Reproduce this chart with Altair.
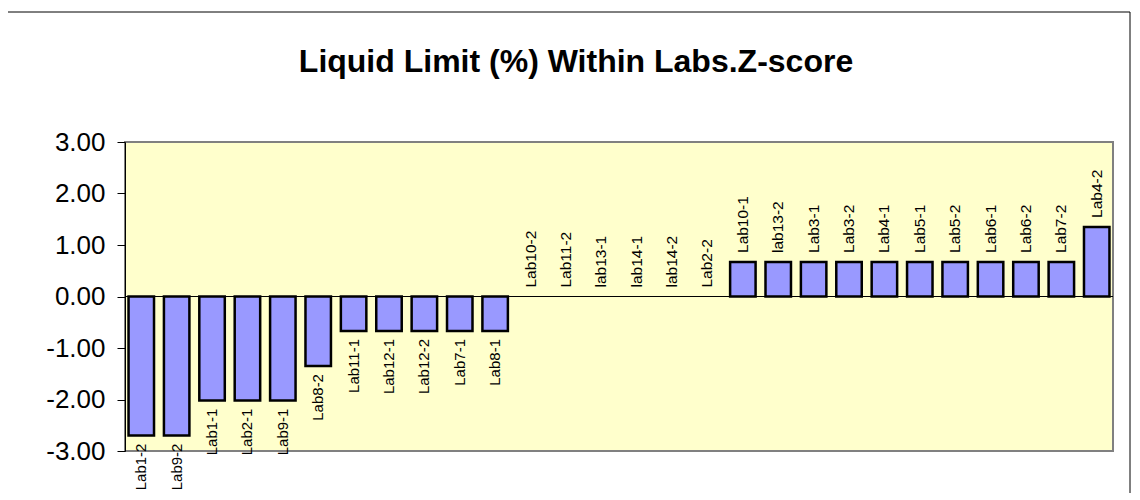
import altair as alt
import pandas as pd

labs = ["Lab1-2", "Lab9-2", "Lab1-1", "Lab2-1", "Lab9-1", "Lab8-2", "Lab11-1", "Lab12-1",
        "Lab12-2", "Lab7-1", "Lab8-1", "Lab10-2", "Lab11-2", "lab13-1", "lab14-1", "lab14-2",
        "Lab2-2", "Lab10-1", "lab13-2", "Lab3-1", "Lab3-2", "Lab4-1", "Lab5-1", "Lab5-2",
        "Lab6-1", "Lab6-2", "Lab7-2", "Lab4-2"]
zscores = [-2.70, -2.70, -2.02, -2.02, -2.02, -1.35, -0.67, -0.67,
           -0.67, -0.67, -0.67, 0.0, 0.0, 0.0, 0.0, 0.0,
           0.0, 0.67, 0.67, 0.67, 0.67, 0.67, 0.67, 0.67,
           0.67, 0.67, 0.67, 1.35]
y_ticks = [-3, -2, -1, 0, 1, 2, 3]
title_text = "Liquid Limit (%) Within Labs.Z-score"

df = pd.DataFrame({"lab": labs, "z": zscores})
FONT = "Liberation Sans"

x_enc = alt.X("lab:N", sort=labs, axis=None,
              scale=alt.Scale(paddingInner=0.28, paddingOuter=0.1))
y_enc = alt.Y("z:Q", scale=alt.Scale(domain=[-3, 3], nice=False),
              axis=alt.Axis(values=y_ticks, title=None, grid=False,
                            labelExpr="datum.value < 0 ? '-' + format(abs(datum.value), '.2f') : format(datum.value, '.2f')",
                            labelFont=FONT, labelFontSize=26, labelColor="black",
                            tickSize=8, tickColor="black", domainColor="black",
                            labelPadding=12))

base = alt.Chart(df)

frame = base.mark_rect(fillOpacity=0, stroke="black", strokeWidth=1).encode(
    x=alt.value(-118), x2=alt.value(1005), y=alt.value(-130), y2=alt.value(420)
).transform_filter(alt.datum.lab == "Lab1-2")

bars = base.transform_filter(alt.datum.z != 0).mark_bar(
    fill="#9999FF", stroke="black", strokeWidth=2.5).encode(
    x=x_enc, y=y_enc, y2=alt.datum(0)
)

zero = base.mark_rule(color="black", strokeWidth=1).encode(y=alt.datum(0)).transform_filter(
    alt.datum.lab == "Lab1-2")

neg_text = base.transform_filter(alt.datum.z < 0).mark_text(
    angle=270, align="right", baseline="middle", dx=-8, font=FONT, fontSize=15, color="black"
).encode(x=x_enc, y=alt.Y("z:Q"), text="lab:N")

pos_text = base.transform_filter(alt.datum.z >= 0).mark_text(
    angle=270, align="left", baseline="middle", dx=9, font=FONT, fontSize=15.5, color="black"
).encode(x=x_enc, y=alt.Y("z:Q"), text="lab:N")

chart = alt.layer(frame, bars, zero, neg_text, pos_text).properties(
    width=988, height=309,
    autosize=alt.AutoSizeParams(type="none"),
    padding={"left": 117, "top": 134, "right": 18, "bottom": 42},
    title=alt.TitleParams(title_text, font=FONT, fontSize=32, fontWeight="bold",
                          color="black", anchor="middle", frame="group", dx=-43,
                          offset=-92, baseline="alphabetic"),
).configure_view(
    fill="#FFFFCC", stroke="#808080", strokeWidth=2
)

chart.save("out.html", embed_options={"renderer": "svg", "actions": False})
